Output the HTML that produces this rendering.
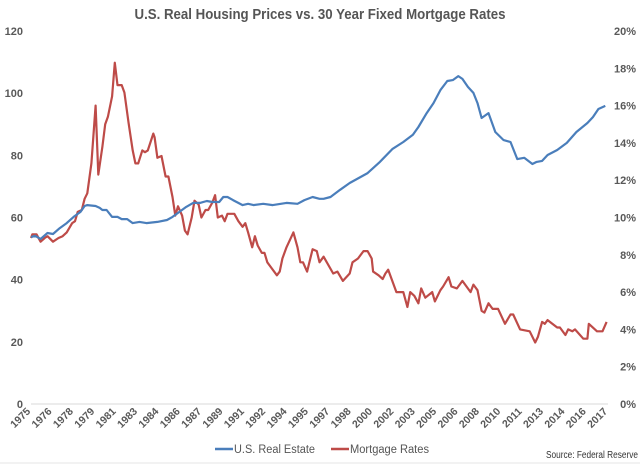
<!DOCTYPE html>
<html><head><meta charset="utf-8"><style>
body{margin:0;background:#fff;}
svg text{font-family:"Liberation Sans",Arial,sans-serif;}
</style></head><body>
<svg id="chart" width="640" height="465" viewBox="0 0 640 465" xmlns="http://www.w3.org/2000/svg">
<rect width="640" height="465" fill="#fff"/>
<text x="320" y="19" text-anchor="middle" font-size="15" font-weight="bold" fill="#555" textLength="371" lengthAdjust="spacingAndGlyphs">U.S. Real Housing Prices vs. 30 Year Fixed Mortgage Rates</text>
<g id="axes"></g>
<g id="series"></g>
<g>
<line x1="215" y1="449" x2="233" y2="449" stroke="#4a7ebb" stroke-width="2.5"/>
<text x="234" y="453" font-size="11.5" fill="#555" textLength="81" lengthAdjust="spacingAndGlyphs">U.S. Real Estate</text>
<line x1="331" y1="449" x2="349" y2="449" stroke="#be4b48" stroke-width="2.5"/>
<text x="350" y="453" font-size="11.5" fill="#555" textLength="79" lengthAdjust="spacingAndGlyphs">Mortgage Rates</text>
</g>
<text x="638" y="458" text-anchor="end" font-size="10" fill="#333" textLength="92" lengthAdjust="spacingAndGlyphs">Source: Federal Reserve</text>
<line x1="0" y1="463" x2="640" y2="463" stroke="#e4e4e4" stroke-width="1"/>
</svg>
<script>
const categories=["1975","1976","1978","1979","1981","1983","1984","1986","1987","1989","1991","1992","1994","1995","1997","1998","2000","2002","2003","2005","2006","2008","2010","2011","2013","2014","2016","2017"];
const leftTicks=[0,20,40,60,80,100,120];
const rightTicks=["0%","2%","4%","6%","8%","10%","12%","14%","16%","18%","20%"];
const realEstateYears=[1975.0,1975.3,1975.7,1976.2,1976.6,1977.1,1977.6,1978.1,1978.6,1978.9,1979.1,1979.7,1980.0,1980.2,1980.5,1980.9,1981.3,1981.6,1982.0,1982.4,1982.9,1983.4,1984.2,1984.9,1985.3,1985.8,1986.3,1986.8,1987.3,1987.8,1988.2,1988.7,1989.0,1989.3,1989.7,1990.4,1990.8,1991.2,1991.9,1992.6,1993.6,1994.4,1994.9,1995.5,1996.0,1996.3,1996.8,1997.5,1998.2,1999.5,2000.4,2001.3,2002.1,2002.8,2003.2,2003.8,2004.3,2004.8,2005.3,2005.7,2006.1,2006.4,2006.8,2007.2,2007.5,2007.8,2008.3,2008.8,2009.4,2009.9,2010.4,2010.9,2011.5,2011.8,2012.2,2012.6,2013.3,2014.0,2014.7,2015.5,2015.9,2016.3,2016.8];
const realEstateValues=[53.7,54.1,53.1,55.0,54.7,56.6,58.2,60.2,61.8,63.7,64.0,63.7,63.1,62.4,62.4,60.2,60.2,59.5,59.5,58.2,58.6,58.2,58.6,59.2,60.2,61.8,63.4,64.7,64.7,65.3,65.0,65.0,66.6,66.6,65.6,64.0,64.4,64.0,64.4,64.0,64.7,64.4,65.6,66.6,66.0,66.0,66.6,68.9,71.1,74.3,77.9,82.0,84.3,86.6,89.1,93.6,96.8,101.0,103.9,104.2,105.5,104.6,102.0,100.1,96.8,92.0,93.6,87.5,84.9,84.3,78.8,79.2,77.2,77.9,78.2,80.1,81.7,84.0,87.5,90.4,92.3,94.9,95.9];
const mortgageYears=[1975.0,1975.1,1975.4,1975.7,1976.0,1976.2,1976.6,1977.0,1977.3,1977.6,1978.0,1978.2,1978.4,1978.7,1978.9,1979.1,1979.4,1979.7,1979.9,1980.2,1980.4,1980.6,1980.9,1981.1,1981.3,1981.6,1981.8,1982.1,1982.4,1982.6,1982.8,1983.1,1983.3,1983.5,1983.9,1984.0,1984.2,1984.5,1984.8,1985.0,1985.3,1985.5,1985.7,1986.0,1986.2,1986.4,1986.7,1986.9,1987.2,1987.4,1987.7,1987.9,1988.2,1988.4,1988.6,1988.9,1989.1,1989.3,1989.6,1989.8,1990.1,1990.4,1990.6,1990.8,1991.1,1991.3,1991.5,1991.8,1992.0,1992.2,1992.5,1992.9,1993.1,1993.3,1993.6,1994.1,1994.4,1994.6,1994.8,1995.1,1995.5,1995.8,1996.0,1996.3,1997.0,1997.3,1997.7,1998.2,1998.4,1998.8,1999.2,1999.5,1999.8,1999.9,2000.3,2000.6,2000.8,2001.0,2001.6,2002.1,2002.4,2002.6,2002.9,2003.2,2003.4,2003.7,2004.2,2004.4,2004.8,2005.0,2005.4,2005.6,2006.0,2006.4,2007.0,2007.2,2007.5,2007.8,2008.0,2008.3,2008.6,2009.0,2009.5,2009.9,2010.1,2010.6,2011.3,2011.7,2011.9,2012.2,2012.4,2012.6,2013.3,2013.5,2013.9,2014.1,2014.4,2014.6,2015.2,2015.5,2015.6,2016.2,2016.6,2016.9];
const mortgageRates=[8.9,9.1,9.1,8.7,8.9,9.0,8.7,8.9,9.0,9.2,9.7,9.8,10.3,10.4,11.0,11.3,12.9,16.0,12.3,13.8,15.0,15.4,16.5,18.3,17.1,17.1,16.7,15.1,13.6,12.9,12.9,13.6,13.5,13.6,14.5,14.3,13.2,13.3,12.2,12.2,11.1,10.1,10.6,10.1,9.3,9.1,10.0,10.9,10.7,10.0,10.4,10.4,10.8,11.2,10.0,10.1,9.8,10.2,10.2,10.2,9.8,9.5,9.7,9.2,8.4,9.0,8.5,8.1,8.1,7.6,7.3,6.9,7.1,7.8,8.4,9.2,8.4,7.6,7.6,7.1,8.3,8.2,7.6,7.9,7.0,7.1,6.6,7.0,7.6,7.8,8.2,8.2,7.8,7.1,6.9,6.7,7.0,7.2,6.0,6.0,5.2,6.0,5.8,5.4,6.2,5.7,6.0,5.5,6.1,6.3,6.8,6.3,6.2,6.6,6.0,6.4,6.1,5.0,4.9,5.4,5.1,5.1,4.3,4.8,4.8,4.0,3.9,3.3,3.6,4.4,4.3,4.5,4.1,4.1,3.7,4.0,3.9,4.0,3.5,3.5,4.3,3.9,3.9,4.4];

const NS="http://www.w3.org/2000/svg";
const X0=31,X1=608,Y0=404,Y1=31;
const xYear=y=>X0+(y-1975)/42*(X1-X0);
const xCat=i=>X0+i/(categories.length-1)*(X1-X0);
const yLeft=v=>Y0-v/120*(Y0-Y1);
const yRight=p=>Y0-p/20*(Y0-Y1);
function mk(tag,attrs,parent){const e=document.createElementNS(NS,tag);for(const k in attrs)e.setAttribute(k,attrs[k]);parent.appendChild(e);return e;}
const axes=document.getElementById('axes'),series=document.getElementById('series');
const base=mk('line',{x1:X0,y1:Y0,x2:X1,y2:Y0,stroke:'#d9d9d9','stroke-width':1},axes);


leftTicks.forEach(v=>{
  const t=mk('text',{x:23,y:yLeft(v)+4,'text-anchor':'end','font-size':'11','font-weight':'bold',fill:'#595959'},axes);
  t.textContent=v;
  
  
});
rightTicks.forEach((s,i)=>{
  const t=mk('text',{x:636,y:yRight(i*2)+4,'text-anchor':'end','font-size':'11','font-weight':'bold',fill:'#595959'},axes);
  t.textContent=s;
  
  
});
categories.forEach((c,i)=>{
  const x=xCat(i),y=412;
  const t=mk('text',{x:x,y:y,'text-anchor':'end','font-size':'10.5','font-weight':'bold',fill:'#595959',transform:`rotate(-45 ${x} ${y})`},axes);
  t.textContent=c;
  
  
});
function line(xs,vs,yf,color,name){
  const d=xs.map((x,i)=>(i?'L':'M')+xYear(x).toFixed(1)+','+yf(vs[i]).toFixed(1)).join('');
  const p=mk('path',{d:d,fill:'none',stroke:color,'stroke-width':2.2,'stroke-linejoin':'round'},series);
  
  
}
line(mortgageYears,mortgageRates,yRight,'#be4b48','mortgage-rates-line');
line(realEstateYears,realEstateValues,yLeft,'#4a7ebb','real-estate-line');
</script>
</body></html>
